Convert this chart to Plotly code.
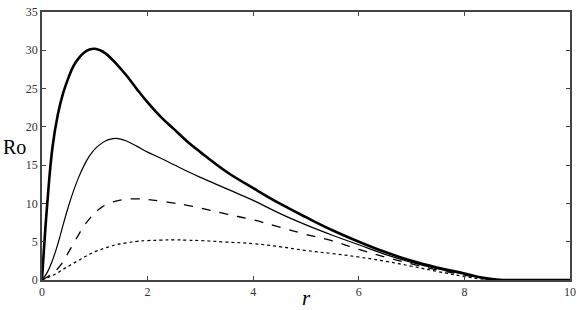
import plotly.graph_objects as go

r = [0, 0.1, 0.2, 0.3, 0.4, 0.5, 0.6, 0.7, 0.8, 0.9, 1.0, 1.1, 1.2, 1.3, 1.4, 1.6, 1.8,
     2.0, 2.25, 2.5, 2.75, 3.0, 3.5, 4.0, 4.5, 5.0, 5.5, 6.0, 6.5, 7.0, 7.5, 8.0, 8.3,
     8.6, 8.8, 10]

ro_thick = [0, 10.0, 17.4, 21.6, 24.4, 26.4, 28.0, 29.0, 29.7, 30.1, 30.2, 30.0, 29.6,
            29.0, 28.3, 26.7, 24.9, 23.2, 21.3, 19.7, 18.1, 16.7, 14.1, 12.0, 10.0, 8.2,
            6.5, 5.0, 3.65, 2.5, 1.6, 0.85, 0.35, 0.05, 0, 0]
ro_thin = [0, 1.0, 2.6, 4.7, 7.2, 9.6, 11.7, 13.5, 15.0, 16.2, 17.1, 17.7, 18.15, 18.4,
           18.5, 18.15, 17.45, 16.7, 15.9, 15.05, 14.2, 13.4, 11.9, 10.4, 8.7, 7.2, 5.85,
           4.6, 3.35, 2.3, 1.45, 0.75, 0.3, 0.04, 0, 0]
ro_dashed = [0, 0.4, 0.9, 1.5, 2.4, 3.6, 4.8, 6.0, 7.1, 8.0, 8.8, 9.35, 9.8, 10.1, 10.3,
             10.55, 10.6, 10.5, 10.3, 10.05, 9.75, 9.4, 8.6, 7.85, 6.9, 5.95, 5.1, 4.0,
             3.0, 2.1, 1.3, 0.65, 0.25, 0.03, 0, 0]
ro_dotted = [0, 0.3, 0.6, 0.95, 1.4, 1.8, 2.2, 2.6, 3.0, 3.35, 3.7, 3.95, 4.2, 4.4, 4.6,
             4.85, 5.05, 5.15, 5.2, 5.25, 5.2, 5.15, 4.95, 4.75, 4.35, 3.85, 3.45, 3.0,
             2.45, 1.8, 1.1, 0.45, 0.15, 0.02, 0, 0]

font = "Liberation Serif, DejaVu Serif, serif"

fig = go.Figure()
for y, w, dash in [(ro_dotted, 1.2, "dot"), (ro_dashed, 1.3, "dash"),
                   (ro_thin, 1.2, "solid"), (ro_thick, 2.6, "solid")]:
    fig.add_trace(go.Scatter(
        x=r, y=y, mode="lines",
        line=dict(color="black", width=w, dash=dash, shape="spline", smoothing=1.2),
        showlegend=False,
    ))

axis_style = dict(
    showline=True, linecolor="#444", linewidth=1.5, mirror="ticks",
    ticks="inside", ticklen=4, tickcolor="#444", showgrid=False, zeroline=False,
    tickfont=dict(family=font, size=12, color="#333"),
)
fig.update_xaxes(range=[0, 10], tickvals=[0, 2, 4, 6, 8, 10], **axis_style)
fig.update_yaxes(range=[0, 35], tickvals=[0, 5, 10, 15, 20, 25, 30, 35], **axis_style)

fig.add_annotation(text="Ro", xref="paper", yref="paper", x=-0.053, y=0.498,
                   xanchor="center", yanchor="middle",
                   showarrow=False, font=dict(family=font, size=20, color="black"))
fig.add_annotation(text="<i>r</i>", xref="paper", yref="paper", x=0.5, y=-0.068,
                   xanchor="center", yanchor="middle",
                   showarrow=False, font=dict(family=font, size=21, color="black"))

fig.update_layout(
    width=581, height=310,
    margin=dict(l=42, r=7, t=5, b=30),
    plot_bgcolor="white", paper_bgcolor="white",
)

# page body has a default 8px margin; drop it so the figure sits at the corner
fig.write_html("out.html", config={"displayModeBar": False},
               post_script="document.body.style.margin='0';")
